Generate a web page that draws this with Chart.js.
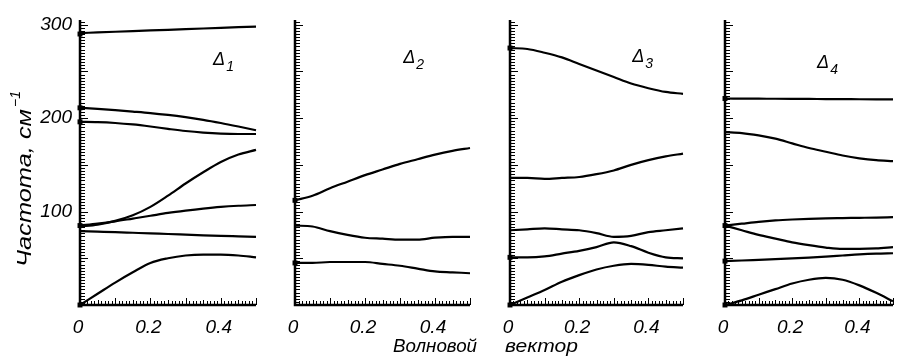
<!DOCTYPE html>
<html>
<head>
<meta charset="utf-8">
<script src="https://cdn.jsdelivr.net/npm/chart.js@4/dist/chart.umd.min.js"></script>
<style>
html, body { margin: 0; padding: 0; background: #fff; }
#wrap { position: relative; width: 900px; height: 364px; }
#wrap canvas { position: absolute; left: 0; top: 0; }
</style>
</head>
<body>
<div id="wrap">
  <canvas id="c1" width="900" height="364"></canvas>
  <canvas id="c2" width="900" height="364"></canvas>
  <canvas id="c3" width="900" height="364"></canvas>
  <canvas id="c4" width="900" height="364"></canvas>
</div>
<script>
// ДАННЫЕ
const qGrid = [0, 0.05, 0.1, 0.15, 0.2, 0.25, 0.3, 0.35, 0.4, 0.45, 0.5];
const xTickLabels = [0, 0.2, 0.4];
const yTickLabels = [100, 200, 300];

// Δ1
const d1a = [291, 291.7, 292.4, 293.1, 293.8, 294.5, 295.2, 295.9, 296.6, 297.3, 298];
const d1b = [211, 209.8, 208.5, 207, 205.4, 203.4, 201, 198.2, 194.8, 191, 187];
const d1c = [196, 195.7, 194.8, 193.2, 191, 188.5, 186.2, 184.5, 183.4, 183, 183];
const d1d = [84, 86, 90, 96, 105, 117, 130, 142, 153, 161, 166];
const d1e = [85, 87, 89.5, 92.5, 95.5, 98.5, 101, 103.2, 105, 106.2, 107];
const d1f = [79, 78.5, 78, 77.3, 76.6, 76, 75.3, 74.6, 74, 73.5, 73];
const d1g = [0, 12, 24, 35, 45, 50, 53, 54, 54, 53, 51];
const m1 = [290, 211, 196, 85, 0];

// Δ2
const d2a = [112, 117, 125, 132, 139, 145, 151, 156, 161, 165, 168];
const d2b = [85, 84, 79, 75, 72, 71, 70, 70, 72, 73, 73];
const d2c = [45, 45, 46, 46, 46, 44, 42, 39, 36, 35, 34];
const m2 = [112, 45];

// Δ3
const d3a = [275, 274, 270, 265, 258, 251, 244, 237, 232, 228, 226];
const d3b = [136, 136, 135, 136, 137, 140, 144, 150, 155, 159, 162];
const d3c = [80, 81, 82, 81, 80, 77, 73, 74, 78, 80, 82];
const d3d = [51, 51, 52, 55, 58, 62, 67, 63, 56, 51, 50];
const d3e = [0, 8, 16, 25, 32, 38, 42, 44, 43, 41, 40];
const m3 = [275, 51, 0];

// Δ4
const d4a = [221, 220.9, 220.8, 220.7, 220.6, 220.5, 220.4, 220.3, 220.2, 220.1, 220];
const d4b = [185, 184, 181.5, 178, 173, 168, 164, 160, 157, 155, 154];
const d4c = [85, 87, 89, 90.5, 91.5, 92.2, 92.7, 93, 93.3, 93.6, 94];
const d4d = [85, 80, 75, 71, 67, 64, 61.5, 60, 60, 60.5, 62];
const d4e = [47, 47.6, 48.3, 49, 49.8, 50.7, 51.8, 53, 54.2, 55, 55.4];
const d4f = [0, 5, 11, 17, 23, 27, 29, 27, 21, 13, 4];
const m4 = [221, 85, 47, 0];

const X_MAX = 0.5;
const Y_MAX = 305;

// ПАНЕЛИ
const panels = [
  { id: 'c1', left: 80,  right: 256, curves: [d1a, d1b, d1c, d1d, d1e, d1f, d1g], marks: m1, sub: '1', labelAt: [0.378, 257], yLabels: true, titles: true },
  { id: 'c2', left: 295, right: 470, curves: [d2a, d2b, d2c], marks: m2, sub: '2', labelAt: [0.309, 259] },
  { id: 'c3', left: 510, right: 683, curves: [d3a, d3b, d3c, d3d, d3e], marks: m3, sub: '3', labelAt: [0.353, 260] },
  { id: 'c4', left: 725, right: 893, curves: [d4a, d4b, d4c, d4d, d4e, d4f], marks: m4, sub: '4', labelAt: [0.274, 254] }
];

const FAM = '"Liberation Sans", "DejaVu Sans", sans-serif';

function fitText(ctx, txt, x, y, w) {
  const m = ctx.measureText(txt).width;
  ctx.save();
  ctx.translate(x, y);
  ctx.scale(w / m, 1);
  ctx.fillText(txt, 0, 0);
  ctx.restore();
}

// ОСИ И ПОДПИСИ
const deco = {
  id: 'deco',
  afterDatasetsDraw(chart, args, o) {
    const ctx = chart.ctx;
    const xs = chart.scales.x, ys = chart.scales.y;
    const x0 = xs.getPixelForValue(0), x1 = xs.getPixelForValue(X_MAX);
    const yb = ys.getPixelForValue(0), yt = ys.getPixelForValue(Y_MAX);
    ctx.save();
    ctx.strokeStyle = '#000';
    ctx.fillStyle = '#000';

    // засечки
    ctx.lineWidth = 1;
    ctx.beginPath();
    const yStep = 10 / 3;
    for (let i = 0; i * yStep <= Y_MAX; i++) {
      const y = Math.round(ys.getPixelForValue(i * yStep)) + 0.5;
      const len = (i % 15 === 0) ? 8 : 5;
      ctx.moveTo(x0, y); ctx.lineTo(x0 + len, y);
    }
    for (let i = 0; i <= 50; i++) {
      const x = Math.round(xs.getPixelForValue(i * 0.01)) + 0.5;
      const len = (i % 10 === 0) ? 7 : (i % 5 === 0 ? 5 : 4);
      ctx.moveTo(x, yb); ctx.lineTo(x, yb - len);
    }
    ctx.stroke();

    ctx.lineWidth = 2.5;
    ctx.beginPath();
    ctx.moveTo(x0, yt); ctx.lineTo(x0, yb); ctx.lineTo(x1, yb);
    ctx.stroke();

    // подписи оси x
    ctx.font = 'italic 19px ' + FAM;
    ctx.textAlign = 'center';
    ctx.textBaseline = 'alphabetic';
    xTickLabels.forEach(v => {
      ctx.fillText(String(v), xs.getPixelForValue(v) - 2, yb + 28);
    });

    // подписи оси y
    if (o.yLabels) {
      ctx.textAlign = 'right';
      ctx.textBaseline = 'middle';
      yTickLabels.forEach(v => {
        ctx.fillText(String(v), x0 - 8, ys.getPixelForValue(v));
      });
    }

    // Δ
    const lx = xs.getPixelForValue(o.labelAt[0]);
    const ly = ys.getPixelForValue(o.labelAt[1]);
    ctx.textAlign = 'left';
    ctx.textBaseline = 'alphabetic';
    ctx.font = 'italic 18px ' + FAM;
    ctx.fillText('Δ', lx, ly);
    const dw = ctx.measureText('Δ').width;
    ctx.font = 'italic 14px ' + FAM;
    ctx.fillText(o.sub, lx + dw + 1, ly + 6);

    // общие заголовки
    if (o.titles) {
      ctx.font = 'italic 20px ' + FAM;
      ctx.save();
      ctx.translate(31, 267);
      ctx.rotate(-Math.PI / 2);
      fitText(ctx, 'Частота, см', 0, 0, 158);
      ctx.font = 'italic 14px ' + FAM;
      ctx.fillText('−1', 160, -11);
      ctx.restore();

      ctx.font = 'italic 19px ' + FAM;
      fitText(ctx, 'Волновой', 393, 352, 84);
      fitText(ctx, 'вектор', 505, 352, 73);
    }
    ctx.restore();
  }
};

// ГРАФИКИ
panels.forEach(p => {
  const datasets = p.curves.map(c => ({
    data: c.map((v, i) => ({ x: qGrid[i], y: v })),
    borderColor: '#000',
    borderWidth: 2.2,
    pointRadius: 0,
    cubicInterpolationMode: 'monotone',
    clip: 6
  }));
  datasets.push({
    data: p.marks.map(v => ({ x: 0, y: v })),
    showLine: false,
    pointStyle: 'rect',
    pointRadius: 3.5,
    backgroundColor: '#000',
    borderColor: '#000',
    borderWidth: 0,
    clip: 8
  });

  new Chart(document.getElementById(p.id), {
    type: 'line',
    data: { datasets },
    options: {
      responsive: false,
      animation: false,
      events: [],
      layout: { padding: { left: p.left, right: 900 - p.right, top: 20, bottom: 364 - 305 } },
      scales: {
        x: { type: 'linear', min: 0, max: X_MAX, display: false },
        y: { type: 'linear', min: 0, max: Y_MAX, display: false }
      },
      plugins: {
        legend: { display: false },
        tooltip: { enabled: false },
        deco: { sub: p.sub, labelAt: p.labelAt, yLabels: !!p.yLabels, titles: !!p.titles }
      }
    },
    plugins: [deco]
  });
});
</script>
</body>
</html>
